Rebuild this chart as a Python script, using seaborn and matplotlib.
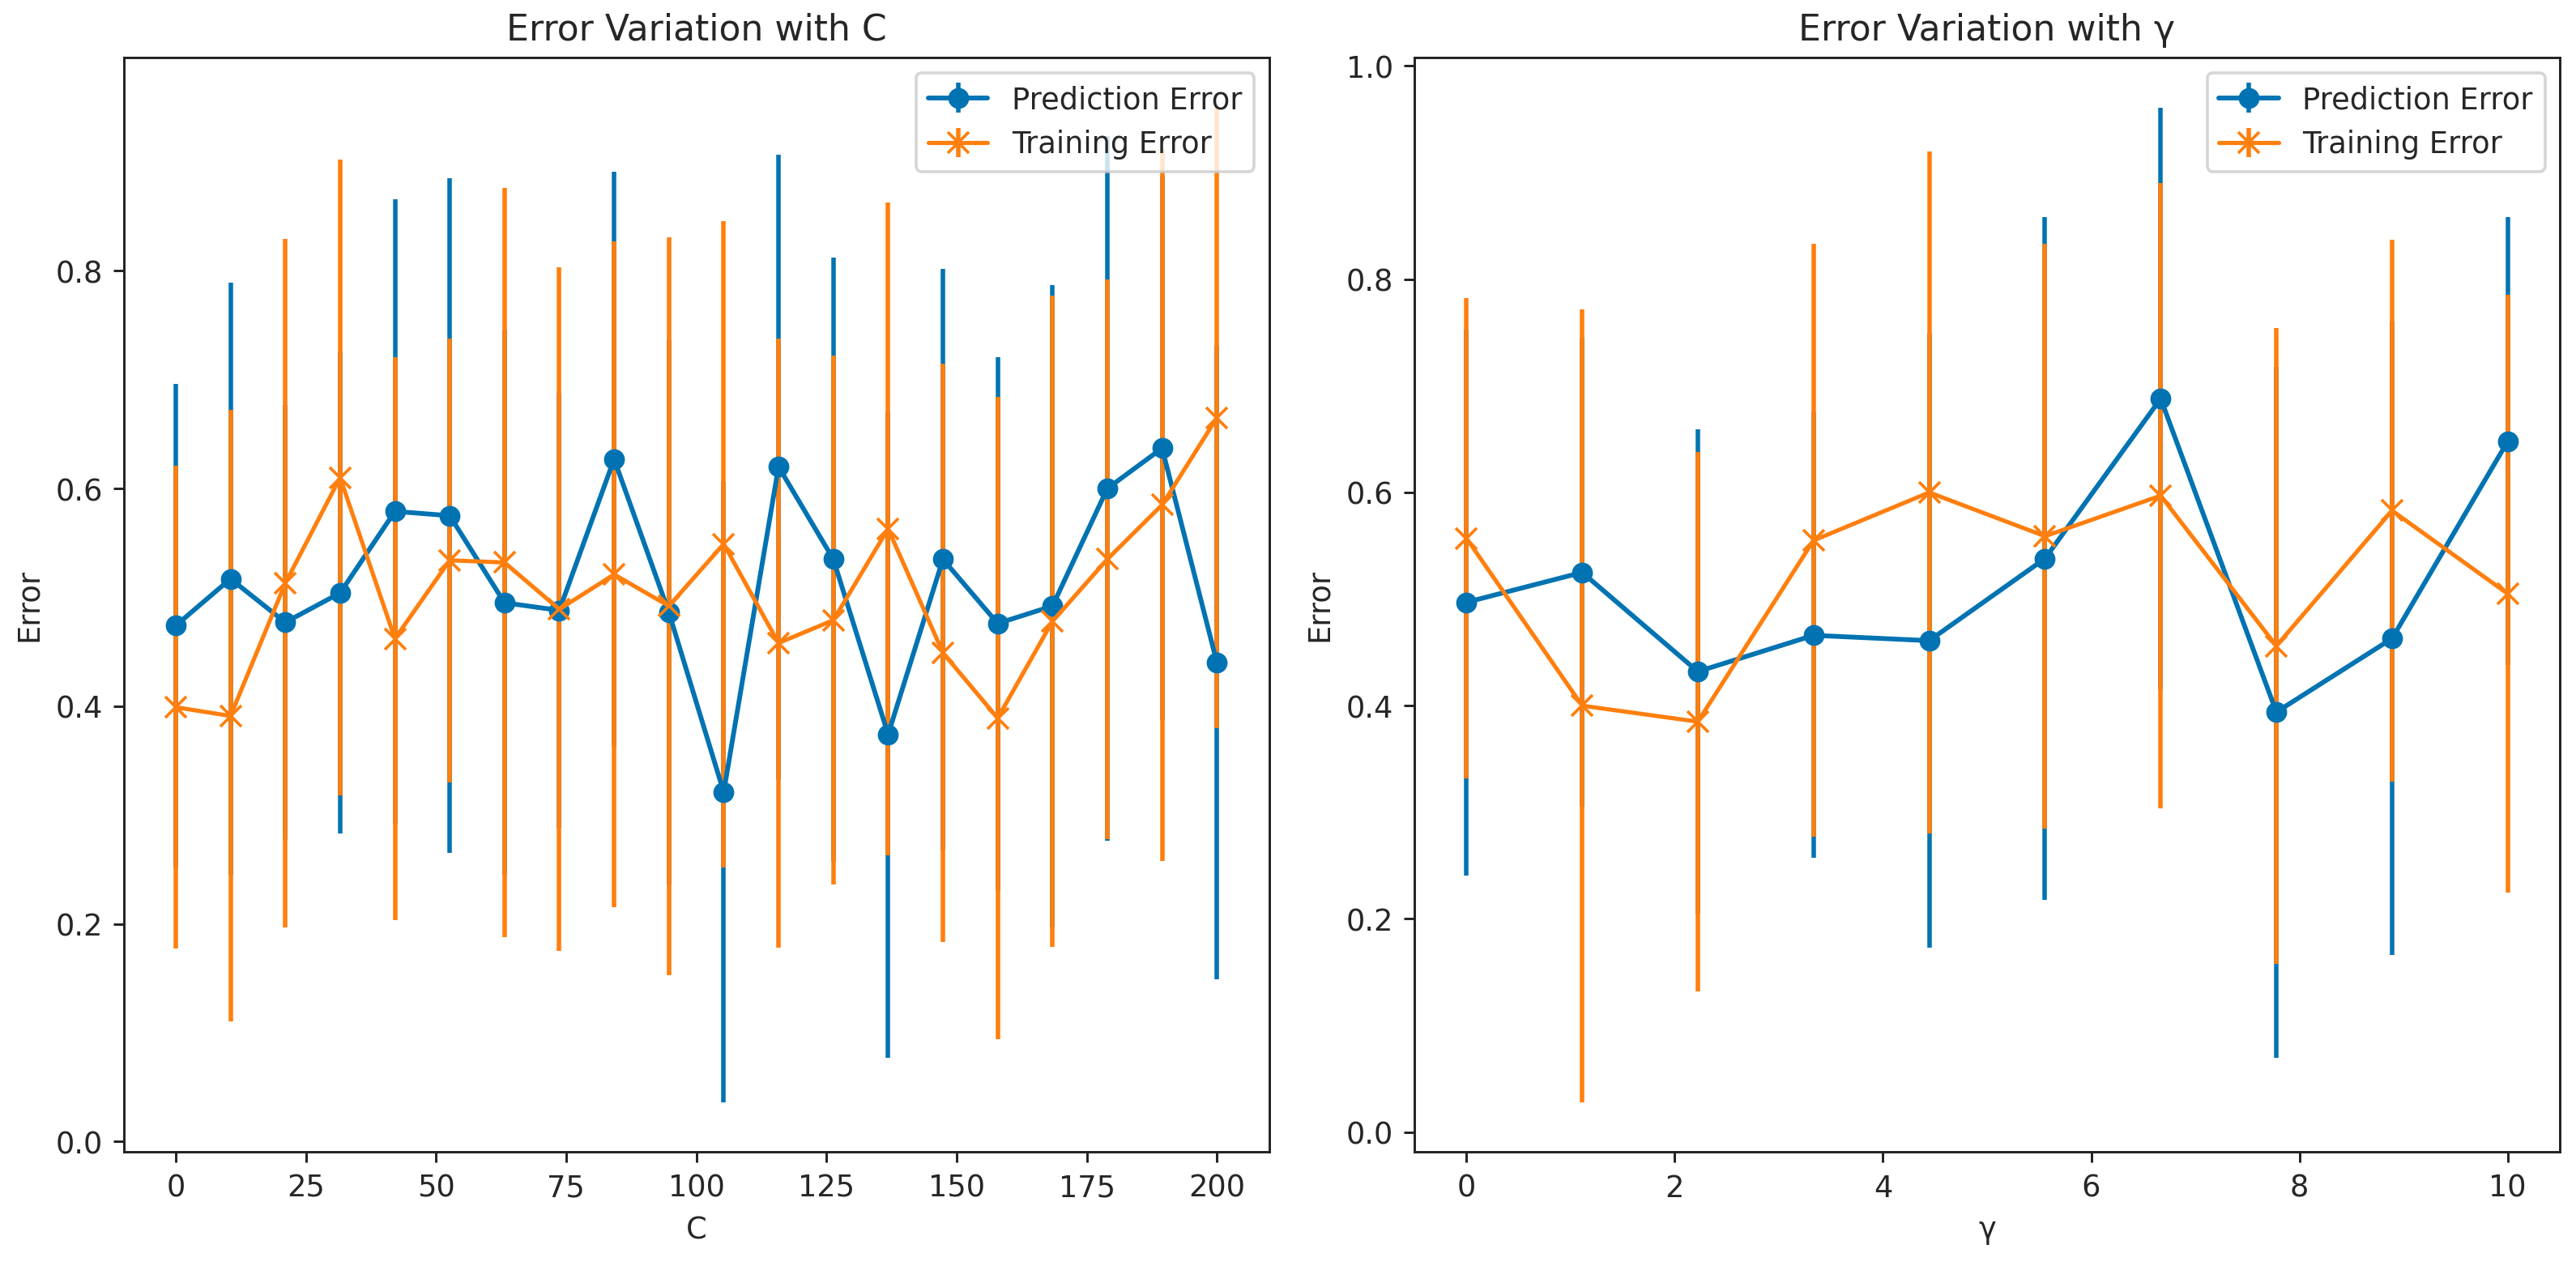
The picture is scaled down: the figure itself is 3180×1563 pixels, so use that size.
import numpy as np
import matplotlib
matplotlib.use("Agg")
import matplotlib.pyplot as plt
import seaborn as sns

# --- values ---
c_values = [0, 10.53, 21.05, 31.58, 42.11, 52.63, 63.16, 73.68, 84.21, 94.74,
            105.26, 115.79, 126.32, 136.84, 147.37, 157.89, 168.42, 178.95, 189.47, 200]
c_pred_err = [0.474, 0.517, 0.477, 0.504, 0.579, 0.575, 0.495, 0.488, 0.627, 0.486,
              0.321, 0.620, 0.535, 0.374, 0.535, 0.476, 0.492, 0.600, 0.637, 0.440]
c_pred_std = [0.222, 0.272, 0.200, 0.221, 0.287, 0.310, 0.250, 0.200, 0.264, 0.250,
              0.285, 0.287, 0.277, 0.297, 0.267, 0.245, 0.295, 0.324, 0.250, 0.291]
c_train_err = [0.399, 0.391, 0.513, 0.610, 0.462, 0.534, 0.532, 0.489, 0.521, 0.492,
               0.549, 0.458, 0.479, 0.563, 0.449, 0.389, 0.478, 0.535, 0.585, 0.665]
c_train_std = [0.222, 0.281, 0.316, 0.292, 0.259, 0.204, 0.344, 0.314, 0.306, 0.339,
               0.297, 0.280, 0.243, 0.300, 0.266, 0.295, 0.299, 0.257, 0.327, 0.285]

g_values = [0, 1.111, 2.222, 3.333, 4.444, 5.556, 6.667, 7.778, 8.889, 10]
g_pred_err = [0.497, 0.525, 0.432, 0.466, 0.461, 0.538, 0.688, 0.394, 0.463, 0.648]
g_pred_std = [0.256, 0.220, 0.227, 0.209, 0.288, 0.320, 0.273, 0.324, 0.297, 0.210]
g_train_err = [0.557, 0.400, 0.385, 0.555, 0.600, 0.559, 0.597, 0.456, 0.583, 0.505]
g_train_std = [0.225, 0.372, 0.253, 0.278, 0.320, 0.274, 0.293, 0.298, 0.254, 0.280]

sns.set_style("white")
plt.rcParams["font.family"] = ["DejaVu Sans"]
plt.rcParams["axes.edgecolor"] = "#222222"
plt.rcParams["xtick.bottom"] = True
plt.rcParams["ytick.left"] = True

blue = "#0173b2"
orange = "#ff7f0e"

fig, axes = plt.subplots(1, 2, figsize=(12, 5.9), dpi=265)
fig.subplots_adjust(left=0.048, right=0.9937, bottom=0.09, top=0.954, wspace=0.127)

panels = [
    (axes[0], c_values, c_pred_err, c_pred_std, c_train_err, c_train_std, "C"),
    (axes[1], g_values, g_pred_err, g_pred_std, g_train_err, g_train_std, "γ"),
]

for ax, xv, pe, ps, te, ts, name in panels:
    ax.errorbar(xv, pe, yerr=ps, fmt="-o", color=blue, ecolor=blue,
                lw=1.6, elinewidth=1.5, markersize=6, label="Prediction Error")
    ax.errorbar(xv, te, yerr=ts, fmt="-x", color=orange, ecolor=orange,
                lw=1.4, elinewidth=1.5, markersize=7, label="Training Error")
    ax.set_title(f"Error Variation with {name}", fontsize=12)
    ax.set_xlabel(name, fontsize=10)
    ax.set_ylabel("Error", fontsize=10)
    ax.tick_params(labelsize=10, length=3.5, width=0.8, color="#222222")
    for sp in ax.spines.values():
        sp.set_linewidth(0.8)
    ax.legend(loc="upper right", fontsize=10)

axes[0].set_xticks([0, 25, 50, 75, 100, 125, 150, 175, 200])
axes[1].set_xticks([0, 2, 4, 6, 8, 10])

plt.savefig("out.png", dpi=265)
